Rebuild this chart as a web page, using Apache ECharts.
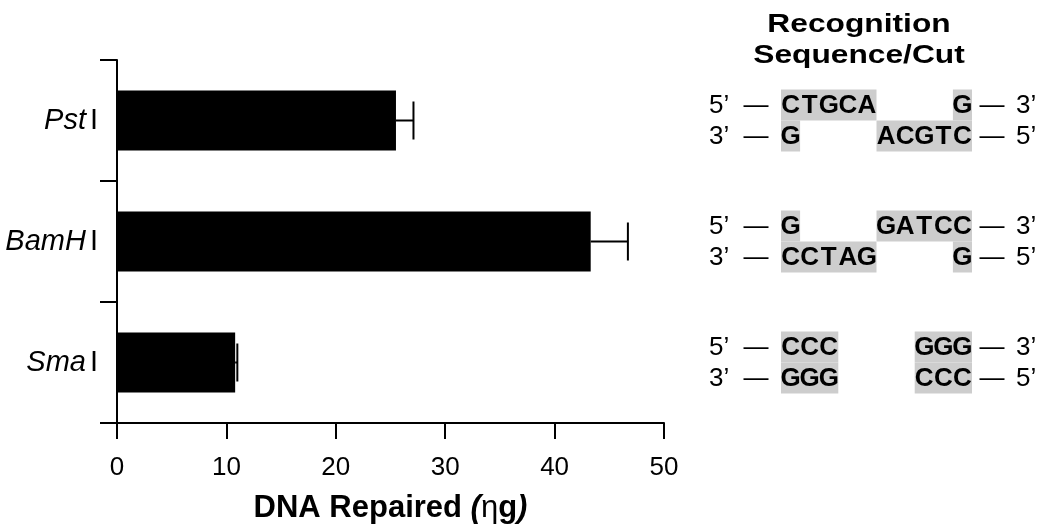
<!DOCTYPE html>
<html>
<head>
<meta charset="utf-8">
<script src="https://cdn.jsdelivr.net/npm/echarts@6/dist/echarts.min.js"></script>
<style>
  html, body { margin: 0; padding: 0; background: #fff; }
  #chart { width: 1050px; height: 531px; }
</style>
</head>
<body>
<div id="chart"></div>
<script>
// ---------- data ----------
const categories = ['PstI', 'BamHI', 'SmaI'];
const values = [25.5, 43.3, 10.8];          // DNA repaired (ng)
const errorsUp = [1.6, 3.4, 0.2];           // upper error
const xTicks = [0, 10, 20, 30, 40, 50];
const panelTitle = ['Recognition', 'Sequence/Cut'];
const topStrands = ['CTGCA    G', 'G    GATCC', 'CCC    GGG'];
const bottomStrands = ['G    ACGTC', 'CCTAG    G', 'GGG    CCC'];

// ---------- styling ----------
const FONT = '"Liberation Sans", Arial, Helvetica, sans-serif';
const chart = echarts.init(document.getElementById('chart'), null, { renderer: 'canvas' });

const option = {
  backgroundColor: '#ffffff',
  animation: false,
  grid: { left: 117, right: 386, top: 60, bottom: 108, containLabel: false },
  xAxis: {
    type: 'value',
    min: xTicks[0],
    max: xTicks[xTicks.length - 1],
    interval: xTicks[1] - xTicks[0],
    axisLine: { show: true, lineStyle: { color: '#000', width: 2 } },
    axisTick: { show: true, length: 16, lineStyle: { color: '#000', width: 2 } },
    splitLine: { show: false },
    axisLabel: { color: '#000', fontSize: 26, fontFamily: FONT, margin: 32 },
    name: '{b|DNA Repaired }{p|(}{eta|η}{b|g}{p|)}',
    nameLocation: 'middle',
    nameGap: 70,
    nameTextStyle: {
      rich: {
        b: { fontSize: 31, fontWeight: 'bold', fontFamily: FONT, color: '#000' },
        p: { fontSize: 31, fontWeight: 'bold', fontStyle: 'italic', fontFamily: FONT, color: '#000' },
        eta: { fontSize: 31, fontFamily: FONT, color: '#000' }
      }
    }
  },
  yAxis: {
    type: 'category',
    data: categories,
    inverse: true,
    axisLine: { show: true, lineStyle: { color: '#000', width: 2 } },
    axisTick: { show: true, length: 17, lineStyle: { color: '#000', width: 2 } },
    splitLine: { show: false },
    axisLabel: {
      margin: 19,
      formatter: function (v) {
        return '{it|' + v.slice(0, -1) + '}{up|' + v.slice(-1) + '}';
      },
      rich: {
        it: { fontSize: 29, fontStyle: 'italic', fontFamily: FONT, color: '#000' },
        up: { fontSize: 29, fontFamily: FONT, color: '#000', padding: [0, 0, 0, 4] }
      }
    }
  },
  series: [
    {
      type: 'bar',
      data: values,
      barWidth: 60,
      itemStyle: { color: '#000' }
    },
    {
      type: 'custom',
      data: values.map((v, i) => [i, v, v + errorsUp[i]]),
      encode: { x: [1, 2], y: 0 },
      renderItem: function (params, api) {
        const idx = api.value(0);
        const p0 = api.coord([api.value(1), idx]);
        const p1 = api.coord([api.value(2), idx]);
        const half = 19;
        return {
          type: 'group',
          children: [
            { type: 'line', shape: { x1: p0[0], y1: p0[1], x2: p1[0], y2: p1[1] },
              style: { stroke: '#000', lineWidth: 2 } },
            { type: 'line', shape: { x1: p1[0], y1: p1[1] - half, x2: p1[0], y2: p1[1] + half },
              style: { stroke: '#000', lineWidth: 2 } }
          ]
        };
      },
      z: 5
    }
  ]
};
chart.setOption(option);

// ---------- right-hand recognition sequence panel ----------
const graphics = [];
const titleY = [25, 56];
panelTitle.forEach((t, i) => {
  graphics.push({
    type: 'text', x: 859, y: titleY[i], scaleX: 1.22, scaleY: 1,
    style: { text: t, x: 0, y: 0, textAlign: 'center', textVerticalAlign: 'middle',
             font: 'bold 26px ' + FONT, fill: '#000' }
  });
});

const slotX0 = 781, pitch = 19.1, rowH = 31;
function addStrand(str, rowCenter, boxTop, leftLab, rightLab) {
  let i = 0;
  while (i < str.length) {
    if (str[i] === ' ') { i++; continue; }
    let j = i;
    while (j + 1 < str.length && str[j + 1] !== ' ') j++;
    graphics.push({
      type: 'rect', z: 1,
      shape: { x: slotX0 + i * pitch, y: boxTop, width: (j - i + 1) * pitch, height: rowH },
      style: { fill: '#cdcdcd' }
    });
    i = j + 1;
  }
  for (let k = 0; k < str.length; k++) {
    if (str[k] === ' ') continue;
    graphics.push({
      type: 'text', z: 2,
      style: { text: str[k], x: slotX0 + (k + 0.5) * pitch, y: rowCenter,
               textAlign: 'center', textVerticalAlign: 'middle',
               font: 'bold 26px ' + FONT, fill: '#000' }
    });
  }
  graphics.push({ type: 'text', z: 2, style: { text: leftLab, x: 709, y: rowCenter,
    textAlign: 'left', textVerticalAlign: 'middle', font: '26px ' + FONT, fill: '#000' } });
  graphics.push({ type: 'text', z: 2, style: { text: '—', x: 756, y: rowCenter,
    textAlign: 'center', textVerticalAlign: 'middle', font: '25px ' + FONT, fill: '#000' } });
  graphics.push({ type: 'text', z: 2, style: { text: '—', x: 992, y: rowCenter,
    textAlign: 'center', textVerticalAlign: 'middle', font: '25px ' + FONT, fill: '#000' } });
  graphics.push({ type: 'text', z: 2, style: { text: rightLab, x: 1016, y: rowCenter,
    textAlign: 'left', textVerticalAlign: 'middle', font: '26px ' + FONT, fill: '#000' } });
}

categories.forEach((c, i) => {
  const cy = chart.convertToPixel({ yAxisIndex: 0 }, c);
  addStrand(topStrands[i], cy - rowH / 2 + 1, cy - rowH, '5’', '3’');
  addStrand(bottomStrands[i], cy + rowH / 2 + 1, cy, '3’', '5’');
});

chart.setOption({ graphic: { elements: graphics } });
</script>
</body>
</html>
